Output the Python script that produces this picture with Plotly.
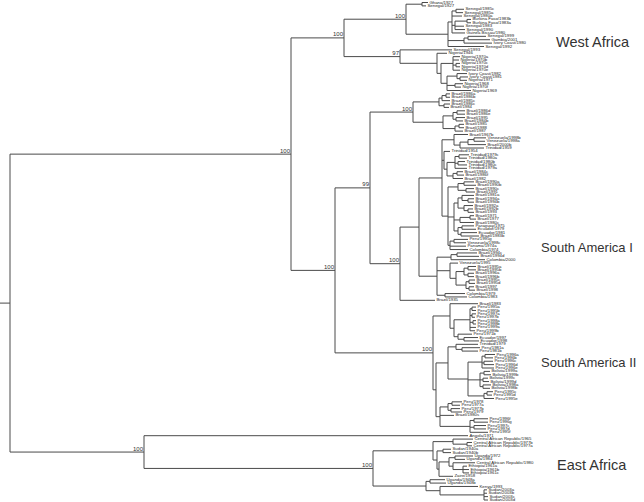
import plotly.graph_objects as go

# ---- tree data (Newick pieces: tip names, branch lengths, bootstrap support) ----
west_africa_1 = ("((Ghana/1927:6,Senegal/1927:4):16,(((Senegal/1985c:8,Senegal/1985a:7):4,Senegal/1980a:10,"
                 "((Burkina Faso/1983b:4,Burkina Faso/1983a:4):12,Senegal/1983:9,Senegal/1990:10):3,"
                 "Guinea Bissau/1980:13):4,((Senegal/1999:18,Gambia/2001:22):4,Ivory Coast/1980:28):16,"
                 "Senegal/1992:36):42)100:62")
west_africa_2 = ("(Senegal/1993:52,(Nigeria/1946:10,((Nigeria/1970a:7,Nigeria/1970b:6,(Nigeria/1970c:4,"
                 "Nigeria/1970d:4):3,Nigeria/1970e:7):12,((Ivory Coast/1982:10,(Ivory Coast/1981:8,"
                 "Nigeria/1971:7):3):10,(Nigeria/1968:8,Nigeria/1970f:6):8,Nigeria/1969:24):6):4):37)97:56")
brazil_clade = ("((((Brazil/1986a:4,Brazil/1986b:4):4,Brazil/1985c:8):3,(Brazil/1986c:6,Brazil/1984:5):5):26,"
                "(((Brazil/1986d:8,Brazil/1986e:8):4,(Brazil/1995:9,Brazil/1984b:7):3):10,((Brazil/1985:5,"
                "Brazil/1988:5):4,Brazil/1987:8):12):30)100:43")
sa1_main = ("((Brazil/1967b:14,(((Venezuela/1998b:12,Venezuela/1998a:11):6,Brazil/2000b:18):8,Trinidad/1959:24):6):12,"
            "(Trinidad/1954:6,(((Trinidad/1979c:10,Trinidad/1980a:8):4,(Trinidad/1980b:7,Trinidad/1980c:9):3,"
            "Trinidad/1979a:12):8,((Brazil/1984c:6,Brazil/1986f:7):4,Brazil/1982:10):6):3):2,"
            "(((Brazil/1990a:10,Brazil/1990b:12):6,(Brazil/1990c:8,Brazil/1991:9):8):10,"
            "(((Brazil/1981a:12,(Brazil/1994a:6,Brazil/1994b:6):6):4,(Brazil/1992a:9,(Brazil/1992b:5,Brazil/1993:6):4):6):4,"
            "((Brazil/1971:4,Brazil/1977:6):10,Brazil/1980c:14):6,((Paraguay/1975:12,Ecuador/1979:14):4,"
            "(Ecuador/1981:16,Brazil/1983b:18):3):4):6,((Peru/1995g:14,Venezuela/1998c:12):4,Panama/1974a:16,"
            "Colombia/1974:18):2):6):23")
sa1_venezuela = ("(((Brazil/1994c:20,Brazil/1994d:22):6,Colombia/2000:34):14,(Venezuela/1995:8,(((Brazil/1995a:8,"
                 "Brazil/1995b:8):4,(Brazil/1996a:6,Brazil/1996b:6):4):8,((Brazil/1995c:6,Brazil/1995d:6):3,"
                 "(Brazil/1997:5,Brazil/1998:6):3):10):6):13,(Colombia/1979:20,Colombia/1983:22):8):18")
sa2_a = ("(Brazil/1983:28,(((Peru/1995a:4,Peru/1995b:4):2,(Peru/1997a:4,Peru/1997b:3):2,(Peru/1998a:3,"
         "Peru/1998b:3):3,Peru/1999a:6,Peru/1999b:5):16,(Peru/1971b:14,(Ecuador/1997:14,Ecuador/1998:15):6):4):4):17")
sa2_b = ("(((Trinidad/1979:22,(Peru/1981a:18,Peru/1981b:16):6):8,(((Peru/1996a:10,Peru/1996b:8):3,(Peru/1996c:9,"
         "Peru/1996d:10):2,Peru/1996e:12):14,((Bolivia/1999a:6,Bolivia/1999b:7):4,(Bolivia/1999c:5,Bolivia/1999d:6):3,"
         "(Bolivia/1998a:8,Bolivia/1998b:7):3):12,((Peru/1995c:6,Peru/1995d:5):3,Peru/1995e:10):16):20):12,"
         "(((Peru/1978:10,Peru/1977a:8):4,(Peru/1977b:9,Peru/1979:11):3):8,Brazil/1980s:14,((Peru/1996f:14,"
         "Peru/1996g:14):4,(Peru/1997c:12,Peru/1997d:12):4,Peru/1995f:18):30):4):3")
east_a = ("((Central African Republic/1965:20,(Central African Republic/1977b:5,Central African Republic/1977a:5):14):20,"
          "((Sudan/1940a:8,Sudan/1940b:8):6,(((Uganda/1972:18,Uganda/1984:10):6,(Central African Republic/1980:22,"
          "(Ethiopia/1961a:4,Ethiopia/1961b:6,Ethiopia/1961c:6):10):4):10,Zaire/1958:14):2):4):60")
east_b = ("((Uganda/1948a:15,Uganda/1948b:16):4,(Kenya/1993:38,(Sudan/2003a:3,Sudan/2003b:3,Sudan/2003c:4,"
          "Sudan/2003d:4):44):14):53")

clade_names = ["West Africa", "South America I", "South America II", "East Africa"]
clade_label_x = [555, 540, 540, 556]
clade_label_y = [11.6, 72.5, 106.5, 136.7]
clade_label_size = [14.5, 13, 13, 14.5]

newick = ("(((" + west_africa_1 + "," + west_africa_2 + ")100:53,((" + brazil_clade + ",((" + sa1_main + ","
          + sa1_venezuela + "):19,Brazil/1935:35)100:30)99:35,(" + sa2_a + "," + sa2_b + ")100:98)100:44)100:281,"
          "(Angola/1971:324,(" + east_a + "," + east_b + ")100:229)100:134):10;")


def parse_newick(s):
    pos = 0

    def node():
        nonlocal pos
        n = {"children": [], "name": "", "support": "", "bl": 0.0}
        if s[pos] == "(":
            pos += 1
            while True:
                n["children"].append(node())
                if s[pos] == ",":
                    pos += 1
                    continue
                pos += 1  # ')'
                break
        st = pos
        while pos < len(s) and s[pos] not in ":,();":
            pos += 1
        lab = s[st:pos].strip()
        if n["children"]:
            n["support"] = lab
        else:
            n["name"] = lab
        if pos < len(s) and s[pos] == ":":
            pos += 1
            st = pos
            while s[pos] not in ",();":
                pos += 1
            n["bl"] = float(s[st:pos])
        return n

    return node()


tree = parse_newick(newick)

tips = []


def layout(n, px):
    n["px"] = px
    n["x"] = px + n["bl"]
    if not n["children"]:
        n["y"] = len(tips)
        tips.append(n)
    else:
        for c in n["children"]:
            layout(c, n["x"])
        n["y"] = (n["children"][0]["y"] + n["children"][-1]["y"]) / 2


layout(tree, 0.0)

lx, ly = [], []
sup_x, sup_y, sup_t = [], [], []


def collect(n):
    lx.extend([n["px"], n["x"], None])
    ly.extend([n["y"], n["y"], None])
    if n["children"]:
        lx.extend([n["x"], n["x"], None])
        ly.extend([n["children"][0]["y"], n["children"][-1]["y"], None])
        if n["support"]:
            sup_x.append(n["x"])
            sup_y.append(n["y"])
            sup_t.append(n["support"])
        for c in n["children"]:
            collect(c)


collect(tree)

N = len(tips)
fig = go.Figure()
fig.add_trace(go.Scatter(x=lx, y=ly, mode="lines", line=dict(color="#4a4a4a", width=1),
                         hoverinfo="skip", showlegend=False))
fig.add_trace(go.Scatter(x=[t["x"] + 1.5 for t in tips], y=[t["y"] for t in tips], mode="text",
                         text=[t["name"] for t in tips], textposition="middle right",
                         textfont=dict(size=4.3, color="#222", family="Liberation Sans, Arial"),
                         hoverinfo="skip", showlegend=False))
fig.add_trace(go.Scatter(x=[v - 1 for v in sup_x], y=sup_y, mode="text", text=sup_t, textposition="top left",
                         textfont=dict(size=6, color="#333", family="Liberation Sans, Arial"),
                         hoverinfo="skip", showlegend=False))

for name, cx, cy, fs in zip(clade_names, clade_label_x, clade_label_y, clade_label_size):
    fig.add_annotation(x=cx, y=cy, text=name, showarrow=False, xanchor="left", yanchor="middle",
                       borderpad=0, font=dict(size=fs, color="#333", family="Liberation Sans, Arial"))

px_per_tip = 497.5 / (N - 1)
top = -2.5 / px_per_tip
bottom = top + 502 / px_per_tip
fig.update_layout(width=644, height=502, margin=dict(l=0, r=0, t=0, b=0),
                  paper_bgcolor="white", plot_bgcolor="white",
                  xaxis=dict(range=[0, 644], visible=False, fixedrange=True),
                  yaxis=dict(range=[bottom, top], visible=False, fixedrange=True))
fig.write_html("out.html", config={"displayModeBar": False},
               post_script="document.body.style.margin='0';document.body.style.overflow='hidden';")
